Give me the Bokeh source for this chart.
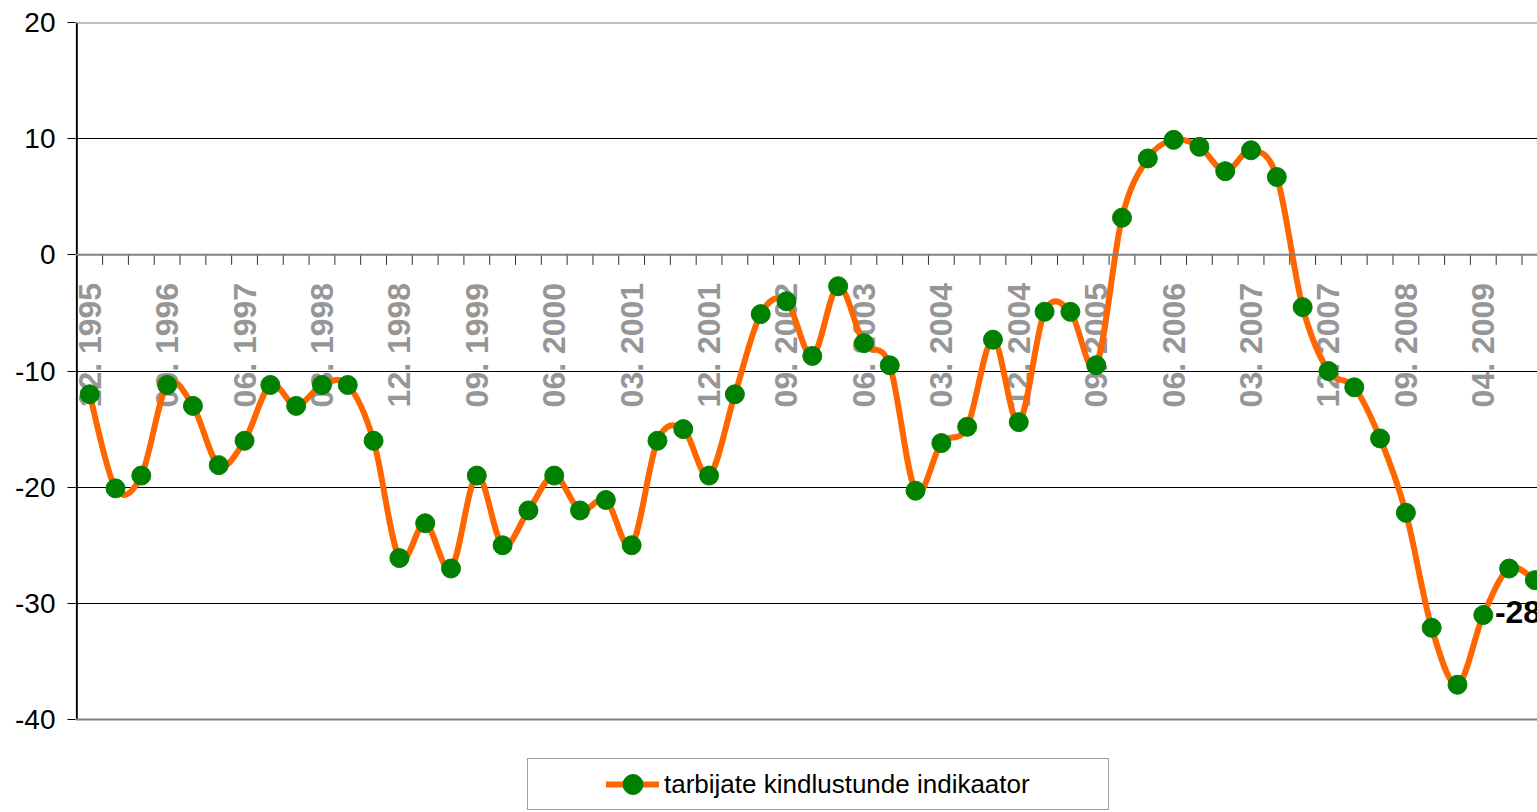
import math
from bokeh.plotting import figure
from bokeh.models import FixedTicker, Span, Legend, LegendItem, Range1d
from bokeh.core.properties import value
from bokeh.embed import file_html
from bokeh.resources import INLINE

# ---------------- data ----------------
categories = [
    "12. 1995", "03. 1996", "06. 1996", "09. 1996", "12. 1996",
    "03. 1997", "06. 1997", "09. 1997", "12. 1997",
    "03. 1998", "06. 1998", "09. 1998", "12. 1998",
    "03. 1999", "06. 1999", "09. 1999", "12. 1999",
    "03. 2000", "06. 2000", "09. 2000", "12. 2000",
    "03. 2001", "06. 2001", "09. 2001", "12. 2001",
    "03. 2002", "06. 2002", "09. 2002", "12. 2002",
    "03. 2003", "06. 2003", "09. 2003", "12. 2003",
    "03. 2004", "06. 2004", "09. 2004", "12. 2004",
    "03. 2005", "06. 2005", "09. 2005", "12. 2005",
    "03. 2006", "06. 2006", "09. 2006", "12. 2006",
    "03. 2007", "06. 2007", "09. 2007", "12. 2007",
    "03. 2008", "06. 2008", "09. 2008", "12. 2008",
    "03. 2009", "04. 2009", "05. 2009", "06. 2009",
]
values = [
    -12.0, -20.1, -19.0, -11.2, -13.0, -18.1, -16.0, -11.2, -13.0, -11.2,
    -11.2, -16.0, -26.1, -23.1, -27.0, -19.0, -25.0, -22.0, -19.0, -22.0,
    -21.1, -25.0, -16.0, -15.0, -19.0, -12.0, -5.1, -4.0, -8.7, -2.7,
    -7.6, -9.5, -20.3, -16.2, -14.8, -7.3, -14.4, -4.9, -4.9, -9.5,
    3.2, 8.3, 9.9, 9.3, 7.2, 9.0, 6.7, -4.5, -10.0, -11.4,
    -15.8, -22.2, -32.1, -37.0, -31.0, -27.0, -28.0,
]
y_ticks = [-40, -30, -20, -10, 0, 10, 20]
label_step = 3
series_name = "tarbijate kindlustunde indikaator"
end_label = "-28"

FONT = "Liberation Sans"
LINE_COLOR = "#FF6600"
MARK_COLOR = "#008000"
LABEL_GRAY = "#969696"

n = len(values)
xs = list(range(n))
boundaries = [i + 0.5 for i in xs]
y_min, y_max = y_ticks[0], y_ticks[-1]

# the frame runs down to the page bottom so the legend can sit inside it;
# the value axis itself only covers y_min..y_max
p = figure(width=1537, height=812, output_backend="svg", toolbar_location=None,
           x_range=Range1d(-0.55, 56.1), y_range=Range1d(-48.0, y_max),
           min_border_left=75, min_border_right=0, min_border_top=22,
           min_border_bottom=0)
p.outline_line_color = None
p.background_fill_color = "white"
p.border_fill_color = "white"

# grid
p.xgrid.visible = False
p.ygrid.ticker = FixedTicker(ticks=y_ticks)
p.ygrid.grid_line_color = "black"
p.ygrid.grid_line_width = 1

# y axis (ticks + labels from the axis, its line drawn only over the value span)
p.yaxis.ticker = FixedTicker(ticks=y_ticks)
p.yaxis.major_label_overrides = {t: str(t) for t in y_ticks}
p.yaxis.axis_line_color = None
p.yaxis.major_tick_out = 8
p.yaxis.major_tick_in = 0
p.yaxis.major_tick_line_color = "black"
p.yaxis.minor_tick_line_color = None
p.yaxis.major_label_text_font = FONT
p.yaxis.major_label_text_font_size = "28px"
p.yaxis.major_label_text_color = "black"
p.yaxis.major_label_standoff = 12
p.segment(x0=[xs[0] - 0.5], y0=[y_min], x1=[xs[0] - 0.5], y1=[y_max],
          line_color="black", line_width=2)

# plot-area top / bottom border
p.add_layout(Span(location=y_max, dimension="width", line_color="#808080", line_width=2))
p.add_layout(Span(location=y_min, dimension="width", line_color="#808080", line_width=2))

# category axis drawn at y = 0
p.xaxis.visible = False
p.add_layout(Span(location=0, dimension="width", line_color="#808080", line_width=2))
p.ray(x=boundaries, y=[0] * len(boundaries), length=10, length_units="screen",
      angle=-math.pi / 2, line_color="#303030", line_width=1)

# category labels (every 3rd), rotated, hanging below the zero axis
lab_x = xs[::label_step]
lab_t = categories[::label_step]
p.text(x=lab_x, y=[0] * len(lab_x), text=lab_t, angle=math.pi / 2,
       text_align="right", text_baseline="middle", y_offset=28,
       text_font=value(FONT), text_font_size="32px", text_font_style="bold",
       text_color=LABEL_GRAY)

# smoothed line (Catmull-Rom style bezier segments between the data points)
x0, y0, x1, y1, cx0, cy0, cx1, cy1 = [], [], [], [], [], [], [], []
for i in range(n - 1):
    a = max(i - 1, 0)
    d = min(i + 2, n - 1)
    x0.append(xs[i]); y0.append(values[i])
    x1.append(xs[i + 1]); y1.append(values[i + 1])
    cx0.append(xs[i] + (xs[i + 1] - xs[a]) / 6.0)
    cy0.append(values[i] + (values[i + 1] - values[a]) / 6.0)
    cx1.append(xs[i + 1] - (xs[d] - xs[i]) / 6.0)
    cy1.append(values[i + 1] - (values[d] - values[i]) / 6.0)
curve = p.bezier(x0=x0, y0=y0, x1=x1, y1=y1, cx0=cx0, cy0=cy0, cx1=cx1, cy1=cy1,
                 line_color=LINE_COLOR, line_width=6, line_cap="round")

marks = p.scatter(x=xs, y=values, size=19, marker="circle",
                  fill_color=MARK_COLOR, line_color=MARK_COLOR)

# data label
p.text(x=[xs[-1]], y=[values[-1]], text=[end_label], x_offset=-40, y_offset=32,
       text_align="left", text_baseline="middle",
       text_font=value(FONT), text_font_size="32px", text_font_style="bold",
       text_color="black")

# legend (invisible spacer items centre the entry inside a wide box)
pad_l = p.line(x=[], y=[], line_alpha=0)
pad_r = p.line(x=[], y=[], line_alpha=0)
legend = Legend(items=[LegendItem(label=" ", renderers=[pad_l]),
                       LegendItem(label=series_name, renderers=[curve, marks]),
                       LegendItem(label=" ", renderers=[pad_r])],
                location=(452, 2), orientation="horizontal",
                glyph_width=53, glyph_height=50, label_standoff=5,
                padding=0, margin=0, spacing=0,
                label_text_font=FONT, label_text_font_size="26px",
                label_text_color="black",
                border_line_color="#404040", border_line_width=1,
                background_fill_color="white")
p.add_layout(legend, "center")

open("out.html", "w").write(file_html(p, INLINE))
